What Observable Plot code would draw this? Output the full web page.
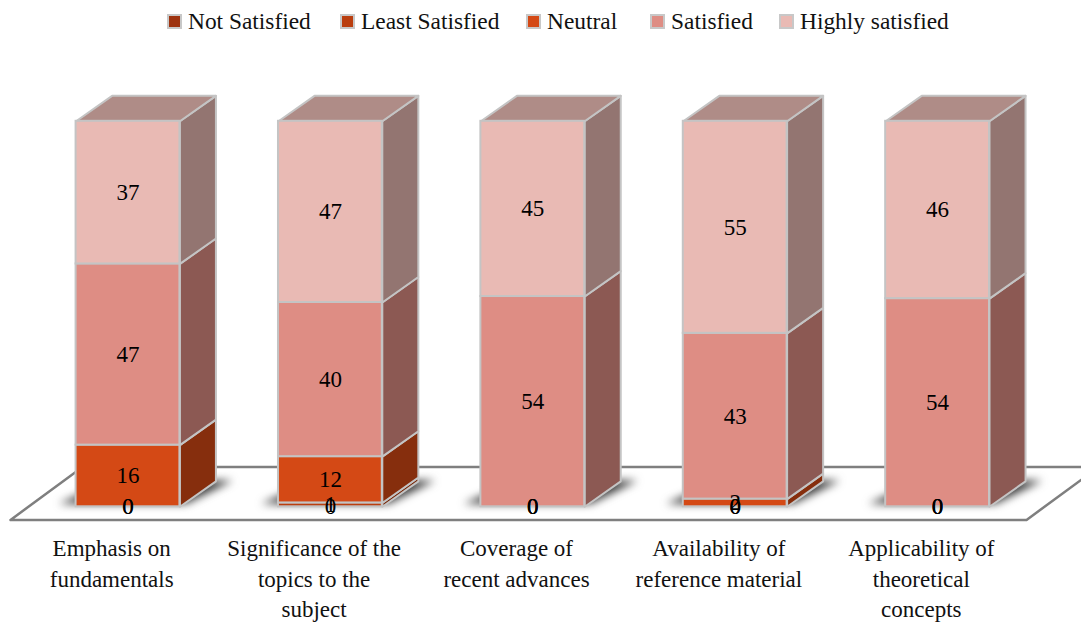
<!DOCTYPE html>
<html>
<head>
<meta charset="utf-8">
<script src="https://cdn.jsdelivr.net/npm/d3@7"></script>
<script src="https://cdn.jsdelivr.net/npm/@observablehq/plot@0.6"></script>
<style>
html,body{margin:0;padding:0;background:#fff;overflow:hidden}
#legend{height:44px;position:relative;font:23.4px "Liberation Serif",serif;color:#111}
#legend .item{position:absolute;top:6px;display:flex;align-items:center;white-space:nowrap;line-height:30px}
#legend .sw{width:11px;height:11px;border:2px solid #c8c8c8;margin-right:6px;box-sizing:content-box}
</style>
</head>
<body>
<div id="legend"></div>
<div id="chart"></div>
<script>
const categories = [
  "Emphasis on\nfundamentals",
  "Significance of the\ntopics to the\nsubject",
  "Coverage of\nrecent advances",
  "Availability of\nreference material",
  "Applicability of\ntheoretical\nconcepts"
];
const seriesNames = ["Not Satisfied", "Least Satisfied", "Neutral", "Satisfied", "Highly satisfied"];
const seriesColors = ["#9E330F", "#BA3E0F", "#D44915", "#DE8D84", "#E9BAB4"];
const notSatisfied = [0, 0, 0, 0, 0];
const leastSatisfied = [0, 1, 0, 0, 0];
const neutral = [16, 12, 0, 2, 0];
const satisfied = [47, 40, 54, 43, 54];
const highlySatisfied = [37, 47, 45, 55, 46];
const seriesValues = [notSatisfied, leastSatisfied, neutral, satisfied, highlySatisfied];
const legendLeft = [167, 340, 526, 650, 779];

// projection of the 3D look, in scale units
const barLeft = -0.176, barRight = 0.337;
const depthX = 0.178, depthY = 6.6;
const floorFront = -3.4, floorDepth = 13.7;

const shade = (c, k) => { const r = d3.rgb(c); return d3.rgb(r.r * k, r.g * k, r.b * k).formatHex(); };

const segments = [];
categories.forEach((_, i) => {
  const total = d3.sum(seriesValues, s => s[i]);
  let acc = 0;
  seriesValues.forEach((s, j) => {
    const y1 = acc / total * 100;
    acc += s[i];
    const y2 = acc / total * 100;
    segments.push({i, j, value: s[i], y1, y2, color: seriesColors[j]});
  });
});
const visible = segments.filter(d => d.value > 0);
const poly = (id, color, pts) => pts.map(([x, y]) => ({id, color, x, y}));

const sides = visible.flatMap(d => poly(`s${d.i}-${d.j}`, shade(d.color, 0.63), [
  [d.i + barRight, d.y1], [d.i + barRight + depthX, d.y1 + depthY],
  [d.i + barRight + depthX, d.y2 + depthY], [d.i + barRight, d.y2]
]));
const tops = categories.flatMap((_, i) => poly(`t${i}`, shade(seriesColors[4], 0.75), [
  [i + barLeft, 100], [i + barRight, 100],
  [i + barRight + depthX, 100 + depthY], [i + barLeft + depthX, 100 + depthY]
]));
const shadows = categories.flatMap((_, i) => poly(`h${i}`, "#3a3a3a", [
  [i + barLeft - 0.085, 0.8], [i + barRight + 0.03, 0.8],
  [i + barRight + 0.26, 6.8], [i + barRight + 0.12, 6.8], [i + barLeft + 0.1, 5]
]));
const floor = poly("floor", "#fff", [
  [-0.5, floorFront], [4.52, floorFront],
  [4.52 + 2 * depthX, floorFront + floorDepth], [-0.5 + 2 * depthX, floorFront + floorDepth]
]);

const polygon = (data, options = {}) => Plot.line(data, {
  x: "x", y: "y", z: "id", fill: "color", curve: "linear-closed",
  stroke: "#c4c4c4", strokeWidth: 2, ...options
});

const chart = Plot.plot({
  width: 1081,
  height: 580,
  marginTop: 0, marginBottom: 0, marginLeft: 0, marginRight: 0,
  style: {background: "#fff", fontFamily: "'Liberation Serif', serif"},
  x: {type: "linear", domain: [-0.5, 4.5], range: [10, 1022]},
  y: {domain: [0, 100], range: [462.3, 76.8], axis: null},
  color: {type: "identity"},
  marks: [
    polygon(floor, {stroke: "#7f7f7f", strokeWidth: 2.5}),
    polygon(shadows, {stroke: "none", render(index, scales, values, dims, ctx, next) {
      const g = next(index, scales, values, dims, ctx);
      g.style.filter = "blur(4.5px)";
      return g;
    }}),
    polygon(sides),
    polygon(tops),
    Plot.rect(visible, {
      x1: d => d.i + barLeft, x2: d => d.i + barRight, y1: "y1", y2: "y2",
      fill: "color", stroke: "#c4c4c4", strokeWidth: 2
    }),
    Plot.text(segments, {
      x: d => d.i + (barLeft + barRight) / 2, y: d => (d.y1 + d.y2) / 2,
      text: d => String(d.value), fontSize: 23, fill: "#000"
    }),
    Plot.axisX({
      anchor: "bottom", ticks: d3.range(categories.length), tickSize: 0,
      tickFormat: i => categories[i], fontSize: 23, lineHeight: 1.33,
      labelArrow: "none", label: null, textStroke: "none", fill: "#111",
      tickPadding: -90, lineAnchor: "top"
    })
  ]
});
document.getElementById("chart").appendChild(chart);

const legend = d3.select("#legend");
seriesNames.forEach((n, j) => {
  const item = legend.append("div").attr("class", "item").style("left", legendLeft[j] + "px");
  item.append("span").attr("class", "sw").style("background", seriesColors[j]);
  item.append("span").text(n);
});
</script>
</body>
</html>
